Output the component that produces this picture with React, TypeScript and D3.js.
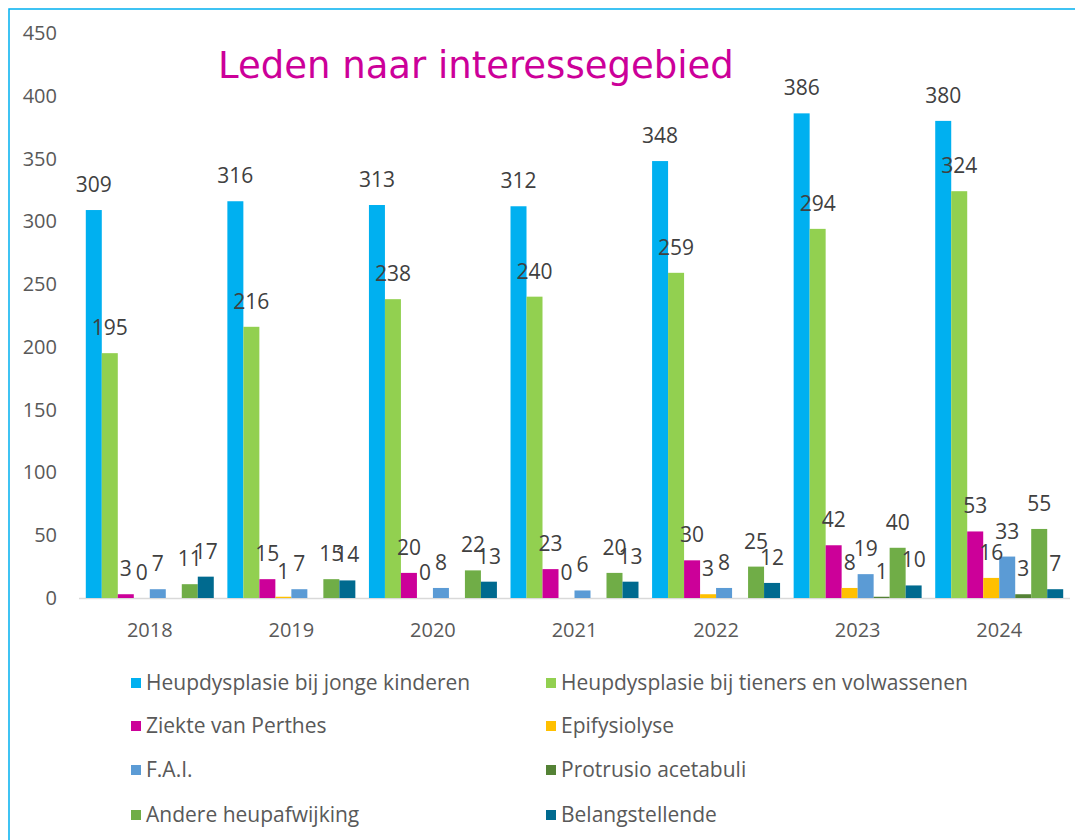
import React from "react";
import * as d3 from "d3";

const years = ["2018", "2019", "2020", "2021", "2022", "2023", "2024"];
const seriesNames = [
  "Heupdysplasie bij jonge kinderen",
  "Heupdysplasie bij tieners en volwassenen",
  "Ziekte van Perthes",
  "Epifysiolyse",
  "F.A.I.",
  "Protrusio acetabuli",
  "Andere heupafwijking",
  "Belangstellende",
];
const seriesColors = ["#00B0F0", "#92D050", "#CC0099", "#FFC000", "#5B9BD5", "#548235", "#70AD47", "#006A8F"];

const jongeKinderen = [309, 316, 313, 312, 348, 386, 380];
const tienersVolwassenen = [195, 216, 238, 240, 259, 294, 324];
const perthes = [3, 15, 20, 23, 30, 42, 53];
const epifysiolyse = [0, 1, 0, 0, 3, 8, 16];
const fai = [7, 7, 8, 6, 8, 19, 33];
const protrusio: (number | null)[] = [null, null, null, null, null, 1, 3];
const andere = [11, 15, 22, 20, 25, 40, 55];
const belangstellende = [17, 14, 13, 13, 12, 10, 7];

const seriesValues: (number | null)[][] = [
  jongeKinderen,
  tienersVolwassenen,
  perthes,
  epifysiolyse,
  fai,
  protrusio,
  andere,
  belangstellende,
];

const yTicks = [0, 50, 100, 150, 200, 250, 300, 350, 400, 450];

const W = 1075;
const H = 840;
const FONT = "'Open Sans', 'Liberation Sans', sans-serif";

export default function App() {
  const x0 = d3.scaleBand<string>().domain(years).range([79, 1070]).paddingInner(0.096).paddingOuter(0.048);
  const x1 = d3.scaleBand<number>().domain(d3.range(seriesNames.length)).range([0, x0.bandwidth()]);
  const y = d3.scaleLinear().domain([0, 450]).range([598, 33]);

  const legendCols = [131, 546];
  const legendRows = [683, 726, 770, 815];

  return (
    <svg width={W} height={H} style={{ position: "absolute", left: 0, top: 0, background: "#fff" }}>
      <rect x={0} y={0} width={W} height={H} fill="#fff" />
      <rect x={9} y={9} width={W + 10} height={H + 10} fill="none" stroke="#00B0F0" strokeWidth={1.5} />
      <text x={218} y={78} fill="#CC0099" fontFamily="'DejaVu Sans', Verdana, sans-serif" fontSize={37}>
        Leden naar interessegebied
      </text>
      {yTicks.map((t) => (
        <text key={t} x={57} y={y(t) + 7} textAnchor="end" fill="#595959" fontFamily={FONT} fontSize={20}>
          {t}
        </text>
      ))}
      <line x1={79} x2={1070} y1={598.5} y2={598.5} stroke="#D9D9D9" strokeWidth={1.5} />
      {years.map((yr, gi) => (
        <g key={yr}>
          {seriesValues.map((vals, si) => {
            const v = vals[gi];
            if (v === null) return null;
            const bx = (x0(yr) as number) + (x1(si) as number);
            return (
              <rect key={si} x={bx} y={y(v)} width={x1.bandwidth()} height={598 - y(v)} fill={seriesColors[si]} />
            );
          })}
          {seriesValues.map((vals, si) => {
            const v = vals[gi];
            if (v === null) return null;
            const cx = (x0(yr) as number) + (x1(si) as number) + x1.bandwidth() / 2;
            return (
              <text key={"l" + si} x={cx} y={y(v) - 18} textAnchor="middle" fill="#404040" fontFamily={FONT} fontSize={21}>
                {v}
              </text>
            );
          })}
          <text x={(x0(yr) as number) + x0.bandwidth() / 2} y={637} textAnchor="middle" fill="#595959" fontFamily={FONT} fontSize={20}>
            {yr}
          </text>
        </g>
      ))}
      {seriesNames.map((name, i) => {
        const cx = legendCols[i % 2];
        const cy = legendRows[Math.floor(i / 2)];
        return (
          <g key={name}>
            <rect x={cx} y={cy - 5} width={10} height={10} fill={seriesColors[i]} />
            <text x={cx + 15} y={cy + 7} fill="#595959" fontFamily={FONT} fontSize={21}>
              {name}
            </text>
          </g>
        );
      })}
    </svg>
  );
}
